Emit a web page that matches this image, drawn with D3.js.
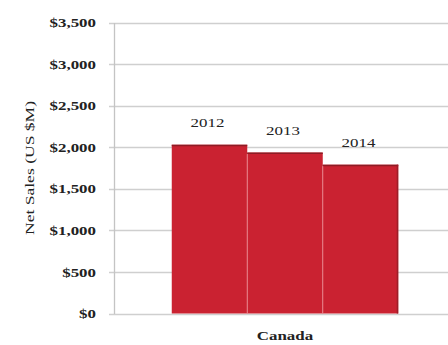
<!DOCTYPE html>
<html>
<head>
<meta charset="utf-8">
<script src="https://cdn.jsdelivr.net/npm/d3@7"></script>
<style>
  html, body { margin: 0; padding: 0; background: #fff; }
  svg { display: block; }
  text { font-family: "Liberation Serif", "Times New Roman", serif; fill: #222; }
</style>
</head>
<body>
<svg id="chart" width="448" height="345"></svg>
<script>
// Net sales by year for the Canadian segment (US $M)
const categories = ["Canada"];
const years = ["2012", "2013", "2014"];
const sales2012 = [2030];
const sales2013 = [1935];
const sales2014 = [1790];
const yTicks = [0, 500, 1000, 1500, 2000, 2500, 3000, 3500];

const seriesValues = { "2012": sales2012, "2013": sales2013, "2014": sales2014 };

const svg = d3.select("#chart");
const margin = { left: 114, right: -8, top: 22.5, bottom: 31.5 };
const W = 448, H = 345;

// wide serif lettering: stretch each label to a width proportional to its natural size
function widen(sel, factor) {
  sel.each(function () {
    const n = this.getComputedTextLength();
    d3.select(this)
      .attr("textLength", n * factor)
      .attr("lengthAdjust", "spacingAndGlyphs");
  });
}

const x0 = d3.scaleBand()
  .domain(categories)
  .range([margin.left, W - margin.right])
  .paddingInner(0)
  .paddingOuter(0.255);

const x1 = d3.scaleBand()
  .domain(years)
  .range([0, x0.bandwidth()])
  .padding(0);

const y = d3.scaleLinear()
  .domain([0, 3500])
  .range([H - margin.bottom, margin.top]);

// Horizontal gridlines
svg.append("g")
  .selectAll("line")
  .data(yTicks)
  .join("line")
  .attr("x1", margin.left - 5)
  .attr("x2", W)
  .attr("y1", d => Math.round(y(d)) + 0.5)
  .attr("y2", d => Math.round(y(d)) + 0.5)
  .attr("stroke", "#cfcfcf")
  .attr("stroke-width", 1.3);

// Y axis with currency labels
const yAxis = d3.axisLeft(y)
  .tickValues(yTicks)
  .tickSize(0)
  .tickPadding(18)
  .tickFormat(d => "$" + d3.format(",")(d));

const gy = svg.append("g")
  .attr("transform", `translate(${margin.left},0)`)
  .call(yAxis);
gy.select(".domain").attr("stroke", "#c4c4c4").attr("stroke-width", 1.3);
gy.selectAll("text")
  .attr("font-size", 13)
  .attr("font-weight", "bold")
  .attr("fill", "#333")
  .style("font-family", "'Liberation Serif', serif")
  .call(widen, 1.3);

// Bars
const groups = svg.append("g")
  .selectAll("g")
  .data(categories)
  .join("g")
  .attr("transform", d => `translate(${x0(d)},0)`);

const barData = (c, i) => years.map(yr => ({ year: yr, value: seriesValues[yr][i] }));

groups.each(function (c, i) {
  const g = d3.select(this);
  const data = barData(c, i);

  g.selectAll("rect.bar")
    .data(data)
    .join("rect")
    .attr("class", "bar")
    .attr("x", d => x1(d.year))
    .attr("y", d => y(d.value))
    .attr("width", x1.bandwidth())
    .attr("height", d => y(0) - y(d.value))
    .attr("fill", "#ca2231");

  // darker top edge and soft separators between adjacent bars
  g.selectAll("line.top")
    .data(data)
    .join("line")
    .attr("class", "top")
    .attr("x1", d => x1(d.year))
    .attr("x2", d => x1(d.year) + x1.bandwidth())
    .attr("y1", d => y(d.value) + 0.75)
    .attr("y2", d => y(d.value) + 0.75)
    .attr("stroke", "#8e1c25")
    .attr("stroke-width", 1.5);

  g.selectAll("line.sep")
    .data(data.slice(1))
    .join("line")
    .attr("class", "sep")
    .attr("x1", d => x1(d.year))
    .attr("x2", d => x1(d.year))
    .attr("y1", d => y(d.value) + 1.5)
    .attr("y2", y(0))
    .attr("stroke", "#e8838b")
    .attr("stroke-width", 1);

  g.append("line")
    .attr("x1", x1(years[years.length - 1]) + x1.bandwidth() - 0.75)
    .attr("x2", x1(years[years.length - 1]) + x1.bandwidth() - 0.75)
    .attr("y1", y(data[data.length - 1].value))
    .attr("y2", y(0))
    .attr("stroke", "#9c1e28")
    .attr("stroke-width", 1.5);

  // Year labels above each bar
  g.selectAll("text.lbl")
    .data(data)
    .join("text")
    .attr("class", "lbl")
    .attr("x", d => x1(d.year) + x1.bandwidth() / 2 - 2)
    .attr("y", d => y(d.value) - 18)
    .attr("text-anchor", "middle")
    .attr("font-size", 13)
    .attr("fill", "#222")
    .text(d => d.year)
    .call(widen, 1.3);
});

// Category label
svg.append("g")
  .selectAll("text")
  .data(categories)
  .join("text")
  .attr("x", d => x0(d) + x0.bandwidth() / 2)
  .attr("y", H - 5)
  .attr("text-anchor", "middle")
  .attr("font-size", 13)
  .attr("font-weight", "bold")
  .attr("fill", "#222")
  .text(d => d)
  .call(widen, 1.3);

// Y axis title
svg.append("text")
  .attr("transform", `translate(34,${(margin.top + H - margin.bottom) / 2}) rotate(-90)`)
  .attr("text-anchor", "middle")
  .attr("font-size", 13.5)
  .attr("fill", "#333")
  .text("Net Sales (US $M)")
  .call(widen, 1.3);
</script>
</body>
</html>
